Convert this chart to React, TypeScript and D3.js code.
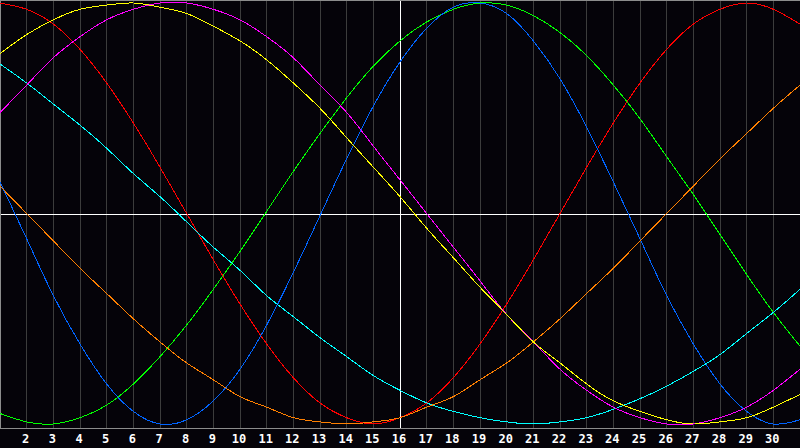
import React, { useRef, useEffect } from 'react';
import * as d3 from 'd3';

// days shown along the bottom, 1..31
const days = d3.range(1, 32);
const dayLabels = d3.range(2, 31).map(String);

// values, in percent (-100..100), one per day
const red = [100, 97, 90, 78, 62, 43, 22, 0, -22, -43, -62, -78, -90, -97, -100, -97, -90, -78, -62, -43, -22, 0, 22, 43, 62, 78, 90, 97, 100, 97, 90];
const green = [-95, -99, -100, -97, -91, -81, -68, -53, -36, -18, 1, 20, 38, 55, 70, 82, 91, 97, 100, 99, 94, 86, 75, 61, 45, 27, 9, -10, -29, -47, -63];
const blue = [15, -12, -39, -62, -81, -94, -100, -98, -89, -74, -53, -28, -1, 26, 51, 72, 88, 98, 100, 95, 82, 64, 41, 15, -12, -39, -62, -81, -94, -100, -98];
const cyan = [71, 62, 52, 42, 31, 19, 8, -4, -16, -27, -39, -49, -59, -68, -77, -84, -90, -94, -97, -99, -100, -99, -97, -93, -88, -82, -75, -67, -57, -47, -36];
const orange = [13, 0, -13, -26, -38, -50, -61, -71, -79, -87, -92, -97, -99, -100, -99, -97, -92, -87, -79, -71, -61, -50, -38, -26, -13, 0, 13, 26, 38, 50, 61];
const magenta = [48, 61, 74, 84, 92, 97, 100, 100, 97, 92, 84, 74, 61, 48, 32, 16, 0, -16, -32, -48, -61, -74, -84, -92, -97, -100, -100, -97, -92, -84, -74];
const yellow = [76, 85, 92, 97, 99, 100, 98, 95, 89, 82, 73, 62, 50, 36, 22, 8, -7, -21, -35, -48, -61, -71, -81, -89, -94, -98, -100, -99, -97, -92, -86];

const series = [
    { values: red, color: '#ff0000' },
    { values: green, color: '#00ff00' },
    { values: blue, color: '#0064ff' },
    { values: cyan, color: '#00ffff' },
    { values: orange, color: '#ff8000' },
    { values: magenta, color: '#ff00ff' },
    { values: yellow, color: '#ffff00' },
];

const Chart = ({ width = 800, height = 448 }) => {
    const svgRef = useRef(null);

    useEffect(() => {
        const svg = d3.select(svgRef.current);
        svg.selectAll('*').remove();

        const axisY = 428;

        const x = d3.scaleLinear().domain([1, 31]).range([0, width]);
        const y = d3.scaleLinear().domain([-100, 100]).range([424, 3]);

        svg.append('rect')
            .attr('width', width)
            .attr('height', height)
            .attr('fill', '#050309');

        // day grid
        svg.append('g')
            .selectAll('line')
            .data(d3.range(2, 31))
            .enter()
            .append('line')
            .attr('x1', (d) => Math.floor(x(d)) + 0.5)
            .attr('x2', (d) => Math.floor(x(d)) + 0.5)
            .attr('y1', 0)
            .attr('y2', axisY)
            .attr('stroke', (d) => (d === 16 ? '#ffffff' : '#3c3c3c'))
            .attr('shape-rendering', 'crispEdges');

        // zero line
        const y0 = Math.round(y(0)) + 0.5;
        svg.append('line')
            .attr('x1', 0)
            .attr('x2', width)
            .attr('y1', y0)
            .attr('y2', y0)
            .attr('stroke', '#ffffff')
            .attr('shape-rendering', 'crispEdges');

        // frame
        svg.append('path')
            .attr('d', `M0.5,${axisY + 0.5}V0.5H${width}M0,${axisY + 0.5}H${width}`)
            .attr('fill', 'none')
            .attr('stroke', '#8c8c8c')
            .attr('shape-rendering', 'crispEdges');

        const line = d3.line()
            .x((d, i) => x(days[i]))
            .y((d) => y(d))
            .curve(d3.curveNatural);

        svg.append('g')
            .selectAll('path')
            .data(series)
            .enter()
            .append('path')
            .attr('d', (s) => line(s.values))
            .attr('fill', 'none')
            .attr('stroke', (s) => s.color)
            .attr('stroke-width', 1)
            .attr('shape-rendering', 'crispEdges');

        svg.append('g')
            .selectAll('text')
            .data(dayLabels)
            .enter()
            .append('text')
            .attr('x', (d) => x(+d) - 1)
            .attr('y', 443)
            .attr('text-anchor', 'middle')
            .attr('fill', '#ffffff')
            .attr('font-family', 'DejaVu Sans Mono')
            .attr('font-weight', 'bold')
            .attr('font-size', 12)
            .text((d) => d);
    }, [width, height]);

    return (
        <svg
            ref={svgRef}
            width={width}
            height={height}
            style={{ position: 'fixed', top: 0, left: 0, display: 'block' }}
        ></svg>
    );
};

export default function App() {
    return <Chart />;
}
